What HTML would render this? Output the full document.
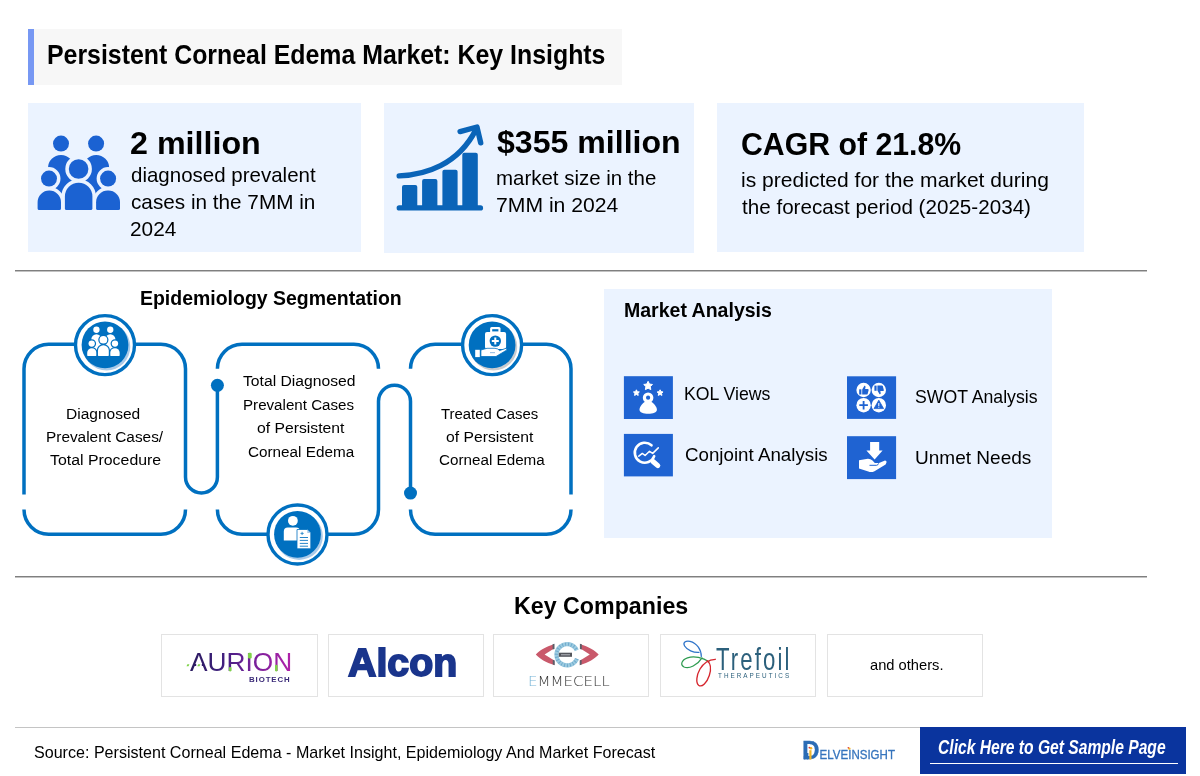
<!DOCTYPE html>
<html lang="en"><head><meta charset="utf-8"><title>Persistent Corneal Edema Market: Key Insights</title>
<style>
html,body{margin:0;padding:0;}
body{width:1200px;height:776px;position:relative;overflow:hidden;background:#fff;font-family:"Liberation Sans", sans-serif;color:#000;}
.t{position:absolute;white-space:nowrap;line-height:1;transform-origin:0 0;display:block;}
.abs{position:absolute;}
.card{position:absolute;background:#ebf3ff;}
.hr{position:absolute;background:#7f7f7f;height:1px;box-shadow:0 1px 0 #c2c2c2;}
.logo{position:absolute;border:1px solid #e3e3e3;box-sizing:border-box;background:#fff;}
.ic{position:absolute;background:#1f63d2;}
svg{position:absolute;overflow:visible;}
.dl{font-size:12.6px;color:#3574bd;-webkit-text-stroke:0.3px #3574bd;}
.dl::first-letter{font-size:26.6px;font-weight:bold;color:#2b6cb5;-webkit-text-stroke:0;}
</style></head><body>
<header>
<div class="abs" style="left:28px;top:29px;width:594px;height:56px;background:#f7f7f7;border-left:6px solid #7798f3;box-sizing:border-box;"></div>
<h1 style="margin:0"><span class="t" style="left:47.10px;top:41px;font-size:27.6px;font-weight:bold;transform:scaleX(0.9014);">Persistent Corneal Edema Market: Key Insights</span></h1>
</header>
<section>
<div class="card" style="left:28px;top:103px;width:333px;height:148.5px;"></div>
<svg style="left:0;top:0" width="140" height="230" viewBox="0 0 140 230" role="img" aria-label="people"><g fill="#1b62d2"><circle cx="61" cy="143.6" r="8"/><circle cx="96.1" cy="143.6" r="8"/><path d="M48,198.5 V168 A13,13 0 0 1 61,155 H61 A13,13 0 0 1 74,168 V198.5 A1.5,1.5 0 0 1 72.5,200 H49.5 A1.5,1.5 0 0 1 48,198.5 Z"/><path d="M83.2,198.5 V168 A13,13 0 0 1 96.2,155 H96.2 A13,13 0 0 1 109.2,168 V198.5 A1.5,1.5 0 0 1 107.7,200 H84.7 A1.5,1.5 0 0 1 83.2,198.5 Z"/><circle cx="49" cy="178.6" r="8" stroke="#ebf3ff" stroke-width="7.0" paint-order="stroke" stroke-linejoin="round"/><circle cx="108.1" cy="178.6" r="8" stroke="#ebf3ff" stroke-width="7.0" paint-order="stroke" stroke-linejoin="round"/><path d="M37.6,208.5 V202.2 A11.7,11.7 0 0 1 49.3,190.5 H49.3 A11.7,11.7 0 0 1 61,202.2 V208.5 A1.5,1.5 0 0 1 59.5,210 H39.1 A1.5,1.5 0 0 1 37.6,208.5 Z" stroke="#ebf3ff" stroke-width="7.0" paint-order="stroke" stroke-linejoin="round"/><path d="M96.1,208.5 V202.2 A11.7,11.7 0 0 1 107.8,190.5 H108.3 A11.7,11.7 0 0 1 120,202.2 V208.5 A1.5,1.5 0 0 1 118.5,210 H97.6 A1.5,1.5 0 0 1 96.1,208.5 Z" stroke="#ebf3ff" stroke-width="7.0" paint-order="stroke" stroke-linejoin="round"/><circle cx="78.6" cy="169" r="9.8" stroke="#ebf3ff" stroke-width="7.0" paint-order="stroke" stroke-linejoin="round"/><path d="M64.9,208.5 V196.5 A13.7,13.7 0 0 1 78.60000000000001,182.8 H78.7 A13.7,13.7 0 0 1 92.4,196.5 V208.5 A1.5,1.5 0 0 1 90.9,210 H66.4 A1.5,1.5 0 0 1 64.9,208.5 Z" stroke="#ebf3ff" stroke-width="7.0" paint-order="stroke" stroke-linejoin="round"/></g></svg>
<span class="t" style="left:129.98px;top:128px;font-size:31.5px;font-weight:bold;transform:scaleX(1.0237);">2 million</span>
<span class="t" style="left:131.00px;top:165px;font-size:20.3px;transform:scaleX(1.0107);">diagnosed prevalent</span>
<span class="t" style="left:131.00px;top:192px;font-size:20.3px;transform:scaleX(1.0219);">cases in the 7MM in</span>
<span class="t" style="left:129.97px;top:219px;font-size:20.3px;transform:scaleX(1.0265);">2024</span>
<div class="card" style="left:384px;top:103px;width:310px;height:150px;"></div>
<svg style="left:380px;top:110px" width="120" height="110" viewBox="380 110 120 110" role="img" aria-label="growth chart"><g fill="#0a64b8"><rect x="396.6" y="205.3" width="86.5" height="5.3" rx="2.6"/><path d="M402,207 V187.1 a2,2 0 0 1 2,-2 H415.3 a2,2 0 0 1 2,2 V207 Z"/><path d="M422.1,207 V181 a2,2 0 0 1 2,-2 H435.4 a2,2 0 0 1 2,2 V207 Z"/><path d="M442.4,207 V171.8 a2,2 0 0 1 2,-2 H455.6 a2,2 0 0 1 2,2 V207 Z"/><path d="M462.3,207 V154.8 a2,2 0 0 1 2,-2 H475.8 a2,2 0 0 1 2,2 V207 Z"/></g><g fill="none" stroke="#0a64b8" stroke-width="5.4" stroke-linecap="round" stroke-linejoin="round"><path d="M399.2,175.9 C425,175 458,165 476,129.5"/><path d="M460.1,131.6 L477,127 L480.7,142.8"/></g></svg>
<span class="t" style="left:497.10px;top:127px;font-size:31.5px;font-weight:bold;transform:scaleX(1.0185);">$355 million</span>
<span class="t" style="left:495.99px;top:168px;font-size:20.3px;transform:scaleX(1.0085);">market size in the</span>
<span class="t" style="left:495.96px;top:195px;font-size:20.3px;transform:scaleX(1.0434);">7MM in 2024</span>
<div class="card" style="left:717px;top:103px;width:367px;height:148.5px;"></div>
<span class="t" style="left:740.54px;top:129px;font-size:31.5px;font-weight:bold;transform:scaleX(0.9602);">CAGR of 21.8%</span>
<span class="t" style="left:740.76px;top:170px;font-size:20.3px;transform:scaleX(1.0384);">is predicted for the market during</span>
<span class="t" style="left:741.80px;top:197px;font-size:20.3px;transform:scaleX(1.0171);">the forecast period (2025-2034)</span>
</section>
<div class="hr" style="left:15px;top:270px;width:1132px;"></div>
<section>
<h2 style="margin:0"><span class="t" style="left:139.81px;top:289px;font-size:19.6px;font-weight:bold;transform:scaleX(0.9932);">Epidemiology Segmentation</span></h2>
<svg style="left:0;top:300px" width="600" height="280" viewBox="0 300 600 280" role="img" aria-label="segmentation flow"><g fill="none" stroke="#0070c0" stroke-width="3.5"><path d="M24,494.5 V368.8 A24.6,24.6 0 0 1 48.6,344.2 H160.9 A24.6,24.6 0 0 1 185.5,368.8 V477 A15.95,15.95 0 0 0 217.4,477 V385"/><path d="M24,509.6 V509.6 A24.6,24.6 0 0 0 48.6,534.2 H160.9 A24.6,24.6 0 0 0 185.5,509.6 V509.6"/><path d="M217.4,368.8 V368.8 A24.6,24.6 0 0 1 242.0,344.2 H353.9 A24.6,24.6 0 0 1 378.5,368.8 V368.8"/><path d="M217.4,509.6 V509.6 A24.6,24.6 0 0 0 242.0,534.2 H353.9 A24.6,24.6 0 0 0 378.5,509.6 V401.3 A16,16 0 0 1 410.5,401.3 V492.7"/><path d="M410.5,368.8 V368.8 A24.6,24.6 0 0 1 435.1,344.2 H546.4 A24.6,24.6 0 0 1 571,368.8 V494.5"/><path d="M410.5,509.6 V509.6 A24.6,24.6 0 0 0 435.1,534.2 H546.4 A24.6,24.6 0 0 0 571,509.6 V509.6"/></g><circle cx="217.4" cy="385.3" r="6.5" fill="#0070c0"/><circle cx="410.5" cy="493.1" r="6.5" fill="#0070c0"/><circle cx="105" cy="345.1" r="29.5" fill="#fff" stroke="#0070c0" stroke-width="3.4"/><circle cx="106.6" cy="346.8" r="23.7" fill="#a9cae9"/><circle cx="105" cy="344.90000000000003" r="23.4" fill="#0070c0"/><g transform="translate(72.39,273.17) scale(0.394)"><g fill="#fff"><circle cx="61" cy="143.6" r="8"/><circle cx="96.1" cy="143.6" r="8"/><path d="M48,198.5 V168 A13,13 0 0 1 61,155 H61 A13,13 0 0 1 74,168 V198.5 A1.5,1.5 0 0 1 72.5,200 H49.5 A1.5,1.5 0 0 1 48,198.5 Z"/><path d="M83.2,198.5 V168 A13,13 0 0 1 96.2,155 H96.2 A13,13 0 0 1 109.2,168 V198.5 A1.5,1.5 0 0 1 107.7,200 H84.7 A1.5,1.5 0 0 1 83.2,198.5 Z"/><circle cx="49" cy="178.6" r="8" stroke="#0070c0" stroke-width="6.4" paint-order="stroke" stroke-linejoin="round"/><circle cx="108.1" cy="178.6" r="8" stroke="#0070c0" stroke-width="6.4" paint-order="stroke" stroke-linejoin="round"/><path d="M37.6,208.5 V202.2 A11.7,11.7 0 0 1 49.3,190.5 H49.3 A11.7,11.7 0 0 1 61,202.2 V208.5 A1.5,1.5 0 0 1 59.5,210 H39.1 A1.5,1.5 0 0 1 37.6,208.5 Z" stroke="#0070c0" stroke-width="6.4" paint-order="stroke" stroke-linejoin="round"/><path d="M96.1,208.5 V202.2 A11.7,11.7 0 0 1 107.8,190.5 H108.3 A11.7,11.7 0 0 1 120,202.2 V208.5 A1.5,1.5 0 0 1 118.5,210 H97.6 A1.5,1.5 0 0 1 96.1,208.5 Z" stroke="#0070c0" stroke-width="6.4" paint-order="stroke" stroke-linejoin="round"/><circle cx="78.6" cy="169" r="9.8" stroke="#0070c0" stroke-width="6.4" paint-order="stroke" stroke-linejoin="round"/><path d="M64.9,208.5 V196.5 A13.7,13.7 0 0 1 78.60000000000001,182.8 H78.7 A13.7,13.7 0 0 1 92.4,196.5 V208.5 A1.5,1.5 0 0 1 90.9,210 H66.4 A1.5,1.5 0 0 1 64.9,208.5 Z" stroke="#0070c0" stroke-width="6.4" paint-order="stroke" stroke-linejoin="round"/></g></g><circle cx="492.1" cy="345.1" r="29.5" fill="#fff" stroke="#0070c0" stroke-width="3.4"/><circle cx="493.6" cy="346.90000000000003" r="23.6" fill="#c9ccd0"/><circle cx="492.1" cy="344.90000000000003" r="23.4" fill="#0070c0"/><g fill="#fff"><rect x="490.1" y="326.9" width="10.4" height="7" rx="1.5"/><rect x="485" y="332" width="21.1" height="17" rx="2"/><rect x="492.2" y="329.2" width="6.2" height="2.2" fill="#0070c0"/><circle cx="495.3" cy="341.1" r="5.7" fill="#0070c0"/><path d="M494.3,337.6 h2 v2.5 h2.5 v2 h-2.5 v2.5 h-2 v-2.5 h-2.5 v-2 h2.5 Z"/><path d="M480.9,350 L487,348.3 H495 Q498.5,348.6 499.5,350.6 L506.4,348.2 Q507.3,349 506.5,350.2 L496,356.5 H480.9 Z" stroke="#0070c0" stroke-width="0.8"/><rect x="475.2" y="349.8" width="4.6" height="7.3"/><rect x="490" y="352" width="5" height="1.2" fill="#9fc3e6"/></g><circle cx="297.5" cy="534.5" r="29.5" fill="#fff" stroke="#0070c0" stroke-width="3.4"/><circle cx="299.1" cy="536.2" r="23.7" fill="#a9cae9"/><circle cx="297.5" cy="534.3" r="23.4" fill="#0070c0"/><g fill="#fff"><circle cx="292.9" cy="520.8" r="4.9"/><path d="M283.8,540.4 V531.5 a4,4 0 0 1 4,-4 H296 a4,4 0 0 1 4,4 V540.4 Z"/><path d="M297,529.5 H307.3 L310.8,533 V548.8 H297 Z" stroke="#0070c0" stroke-width="0.8"/><path d="M307.3,529.5 V533 H310.8 Z" fill="#a6c8e8"/><g stroke="#0070c0" stroke-width="1" opacity="0.85"><path d="M299.8,537.5 H308 M299.8,540.4 H308 M299.8,543.4 H308 M299.8,546.2 H308"/><path d="M300.5,533.4 H303.7 M302.1,531.8 V535" stroke-width="0.9"/></g></g></svg>
<span class="t" style="left:65.50px;top:406px;font-size:15.5px;transform:scaleX(1.0015);">Diagnosed</span>
<span class="t" style="left:45.71px;top:429px;font-size:15.5px;transform:scaleX(0.9922);">Prevalent Cases/</span>
<span class="t" style="left:49.50px;top:452px;font-size:15.5px;transform:scaleX(1.0237);">Total Procedure</span>
<span class="t" style="left:242.90px;top:373px;font-size:15.5px;transform:scaleX(1.0123);">Total Diagnosed</span>
<span class="t" style="left:243.22px;top:397px;font-size:15.5px;transform:scaleX(0.9763);">Prevalent Cases</span>
<span class="t" style="left:256.80px;top:420px;font-size:15.5px;transform:scaleX(1.0145);">of Persistent</span>
<span class="t" style="left:247.60px;top:444px;font-size:15.5px;transform:scaleX(0.9854);">Corneal Edema</span>
<span class="t" style="left:441.40px;top:406px;font-size:15.5px;transform:scaleX(0.9622);">Treated Cases</span>
<span class="t" style="left:446.25px;top:429px;font-size:15.5px;transform:scaleX(1.0127);">of Persistent</span>
<span class="t" style="left:438.90px;top:452px;font-size:15.5px;transform:scaleX(0.9817);">Corneal Edema</span>
</section>
<section>
<div class="card" style="left:604px;top:288.5px;width:448px;height:249px;"></div>
<h2 style="margin:0"><span class="t" style="left:623.80px;top:301px;font-size:19.6px;font-weight:bold;transform:scaleX(0.9959);">Market Analysis</span></h2>
<svg style="left:600px;top:360px" width="320" height="130" viewBox="600 360 320 130" role="img" aria-label="market analysis icons"><rect x="623.9" y="376.2" width="49" height="42.8" fill="#1f63d2"/><rect x="623.9" y="433.9" width="49" height="42.5" fill="#1f63d2"/><rect x="847" y="376.3" width="49.1" height="42.6" fill="#1f63d2"/><rect x="847" y="436.2" width="49.1" height="42.9" fill="#1f63d2"/><g fill="#fff"><polygon points="648.10,381.30 649.45,384.04 652.47,384.48 650.29,386.61 650.80,389.62 648.10,388.20 645.40,389.62 645.91,386.61 643.73,384.48 646.75,384.04" stroke="#fff" stroke-width="1" stroke-linejoin="round"/><polygon points="636.40,389.80 637.31,391.65 639.35,391.94 637.87,393.38 638.22,395.41 636.40,394.45 634.58,395.41 634.93,393.38 633.45,391.94 635.49,391.65" stroke="#fff" stroke-width="1" stroke-linejoin="round"/><polygon points="660.10,389.80 661.01,391.65 663.05,391.94 661.57,393.38 661.92,395.41 660.10,394.45 658.28,395.41 658.63,393.38 657.15,391.94 659.19,391.65" stroke="#fff" stroke-width="1" stroke-linejoin="round"/><circle cx="648.1" cy="397.7" r="3.7" fill="#1f63d2" stroke="#fff" stroke-width="3.2"/><path d="M645.2,401.6 H651 C653.5,403.5 656.9,406.5 656.9,409.8 C656.9,412.6 653,413.8 648.2,413.8 C643.4,413.8 639.5,412.6 639.5,409.8 C639.5,406.5 642.7,403.5 645.2,401.6 Z"/></g><g fill="none" stroke="#fff" stroke-linecap="round" stroke-linejoin="round"><path d="M654.20,456.12 A10,10 0 1 1 651.49,445.27" stroke-width="2.6"/><path d="M638.8,456.2 L642.3,453.4 L645.1,455.5 L649.5,451.3 L652.7,453.4 L658.3,447.9" stroke-width="1.5"/><path d="M653,461.5 L657.8,465.6" stroke-width="5"/></g><g fill="#fff"><circle cx="863.6" cy="390" r="7.2"/><circle cx="878.8" cy="390" r="7.2"/><circle cx="863.6" cy="405.2" r="7.2"/><circle cx="878.8" cy="405.2" r="7.2"/><g fill="#1f63d2"><rect x="859.2" y="389.3" width="2.2" height="5.2"/><path d="M862.2,389.6 L864.4,385.8 Q865.6,385.6 865.5,387.2 L865.1,389 H868 Q868.8,389.2 868.6,390.2 L867.6,394 Q867.3,394.6 866.6,394.6 H862.2 Z"/><g transform="translate(1757.6,0) scale(-1,1)"><rect x="881" y="385.6" width="2.2" height="5.2"/><path d="M880.2,390.5 L878,394.3 Q876.8,394.5 876.9,392.9 L877.3,391.1 H874.4 Q873.6,390.9 873.8,389.9 L874.8,386.1 Q875.1,385.5 875.8,385.5 H880.2 Z"/></g><path d="M862.7,400.9 h1.8 v3.4 h3.4 v1.8 h-3.4 v3.4 h-1.8 v-3.4 h-3.4 v-1.8 h3.4 Z"/><path d="M878.8,400.2 L883.6,408.6 H874 Z" stroke-linejoin="round" stroke="#1f63d2" stroke-width="0.8"/><rect x="878.3" y="403" width="1" height="3" fill="#fff"/><rect x="878.3" y="406.7" width="1" height="1" fill="#fff"/></g></g><g fill="#fff"><path d="M870.1,442 H879.2 V450.6 H882.6 L874.6,459.4 L866.4,450.6 H870.1 Z"/><path d="M859,460.2 L867.8,458.7 Q870.5,458.6 872.5,460.6 L874.8,462.9 H879 L885,460.6 Q886.9,460.6 886.5,462.6 L885.6,464.6 L874.5,471.2 Q871.5,472.8 868.3,471.6 L859,468.4 Z"/><path d="M869.5,465.3 H876.6 Q878.2,465 878.6,463.4" fill="none" stroke="#1f63d2" stroke-width="1"/></g></svg>
<span class="t" style="left:684.03px;top:385px;font-size:18.2px;transform:scaleX(0.9713);">KOL Views</span><span class="t" style="left:684.90px;top:446px;font-size:18.2px;transform:scaleX(1.0300);">Conjoint Analysis</span><span class="t" style="left:914.80px;top:388px;font-size:18.2px;transform:scaleX(0.9730);">SWOT Analysis</span><span class="t" style="left:914.75px;top:449px;font-size:18.2px;transform:scaleX(1.0463);">Unmet Needs</span>
</section>
<div class="hr" style="left:15px;top:576px;width:1132px;"></div>
<section>
<h2 style="margin:0"><span class="t" style="left:513.86px;top:594px;font-size:24.7px;font-weight:bold;transform:scaleX(0.9407);">Key Companies</span></h2>
<div class="logo" style="left:161px;top:634px;width:157px;height:63px;"></div>
<div class="logo" style="left:328px;top:634px;width:156px;height:63px;"></div>
<div class="logo" style="left:493px;top:634px;width:156px;height:63px;"></div>
<div class="logo" style="left:660px;top:634px;width:156px;height:63px;"></div>
<div class="logo" style="left:827px;top:634px;width:156px;height:63px;"></div>
<svg style="left:160px;top:630px" width="830" height="70" viewBox="160 630 830 70" role="img" aria-label="company logo marks"><path d="M554,644.2 C546,646.5 539.5,650.5 535.8,654.4 C539.5,658.5 546,662.6 554.3,664.9 L554.3,660.6 L544.6,654.4 L554,648.4 Z" fill="#c9596b"/><path d="M580.4,644.2 C588.4,646.5 594.9,650.5 598.7,654.4 C594.9,658.5 588.4,662.6 580.1,664.9 L580.1,660.6 L589.8,654.4 L580.4,648.4 Z" fill="#c9596b"/><path d="M552.6,644.3 L554.5,643.8 V649 L552.6,649.6 Z M552.8,659.8 L554.7,660.6 V665.2 L552.8,664.6 Z M581.8,644.3 L579.9,643.8 V649 L581.8,649.6 Z M581.6,659.8 L579.7,660.6 V665.2 L581.6,664.6 Z" fill="#5a5e68"/><path d="M576.93,658.72 A10.6,10.6 0 1 1 576.78,650.44" fill="none" stroke="#9ccbe0" stroke-width="4.3"/><path d="M576.93,658.72 A10.6,10.6 0 1 1 576.78,650.44" fill="none" stroke="#4d8fbd" stroke-width="3.6" stroke-dasharray="1 1.9" opacity="0.55"/><rect x="558.8" y="652.7" width="13.2" height="4.1" fill="#54565c"/><rect x="561" y="654" width="9" height="1.4" fill="#9a9ca2"/><g fill="none" stroke-linecap="round"><path d="M701.3,656.5 C701.5,650 697,643 690,641.3 C685.5,640.4 682.6,642.6 684.6,646 C687,650 693.5,652.8 699,652.4" stroke="#2f74c9" stroke-width="1.25"/><path d="M709,661.8 C703,657.5 694,655.6 687.5,657.8 C681.5,659.9 680,664.8 684,667 C689,669.5 697.5,665 702,657.8" stroke="#2e9b50" stroke-width="1.25"/><path d="M715.3,659.3 C709,659.6 703.5,663 700,669 C696.6,675 695.6,682.5 698.6,685.2 C702,687.8 707,682.5 709.3,675.5 C711.2,669.5 710.6,663.5 707.2,660.8" stroke="#d6262e" stroke-width="1.35"/></g></svg>
<span class="t" style="left:189.60px;top:649px;font-size:26.2px;transform:scaleX(1.0026);color:#5a2090;background:linear-gradient(90deg,#2a1a5e 0%,#3d1f7c 30%,#6a2096 55%,#b322aa 100%);-webkit-background-clip:text;background-clip:text;-webkit-text-fill-color:transparent;">AURION</span>
<span class="t" style="left:249.20px;top:676px;font-size:7px;font-weight:bold;color:#3a2a78;letter-spacing:0.8px;transform:scaleX(1.1202);">BIOTECH</span>
<span class="t" style="left:348.10px;top:643px;font-size:39.4px;font-weight:bold;color:#1a358c;transform:scaleX(0.9976);-webkit-text-stroke:1.8px #1a358c;">Alcon</span>
<span class="t" style="left:528.14px;top:674px;font-size:14.2px;font-weight:200;color:#2e2e2e;font-family:'DejaVu Sans', 'Liberation Sans', sans-serif;transform:scaleX(1.0606);background:linear-gradient(90deg,#6fb0d4 0%,#6fb0d4 10.5%,#2e2e2e 10.5%);-webkit-background-clip:text;background-clip:text;-webkit-text-fill-color:transparent;">EMMECELL</span>
<span class="t" style="left:716.40px;top:644px;font-size:31.5px;color:#2c607c;letter-spacing:3px;transform:scaleX(0.7044);">Trefoil</span>
<span class="t" style="left:718.00px;top:673px;font-size:6.3px;color:#2c607c;letter-spacing:2px;transform:scaleX(1.0081);">THERAPEUTICS</span>
<svg style="left:160px;top:630px" width="200" height="70" viewBox="160 630 200 70" role="img" aria-label="Aurion accents"><rect x="196.2" y="663.4" width="5.6" height="2.9" fill="#fff"/><g fill="#7ed348"><path d="M186.5,666.2 l0.9,-2 h2 l-0.9,2 Z"/><path d="M197.3,666.2 l0.9,-2 h2.2 l-0.9,2 Z"/><rect x="228.9" y="667" width="2.6" height="4.4" rx="1.1"/><rect x="248" y="652.8" width="3.7" height="5.8" rx="1.3"/><rect x="275" y="664.8" width="2.6" height="6.6" rx="1.1"/></g></svg>
<span class="t" style="left:870.30px;top:658px;font-size:14.2px;transform:scaleX(1.0351);">and others.</span>
</section>
<footer>
<div class="abs" style="left:15px;top:727px;width:905px;height:1px;background:#c4c4c4;"></div>
<span class="t" style="left:33.50px;top:745px;font-size:16.6px;transform:scaleX(0.9692);">Source: Persistent Corneal Edema - Market Insight, Epidemiology And Market Forecast</span>
<span class="t dl" style="left:802px;top:737px;transform:scaleX(0.915);">DELVEINSIGHT</span>
<svg style="left:800px;top:738px" width="30" height="26" viewBox="800 738 30 26" role="img" aria-label="DelveInsight mark"><rect x="803.8" y="756" width="1.8" height="3.5" fill="#2b6cb5"/><rect x="806.5" y="753" width="1.9" height="6.5" fill="#2b6cb5"/><rect x="809.3" y="750.2" width="2.2" height="9.3" fill="#f2b526"/><circle cx="811" cy="748.3" r="1.3" fill="#f2b526"/><circle cx="809.4" cy="747.6" r="0.9" fill="#e03a3a"/><circle cx="849.3" cy="748.6" r="1.2" fill="#f2b526"/><circle cx="848.3" cy="747.7" r="0.8" fill="#e03a3a"/></svg>
<div class="abs" style="left:920px;top:727px;width:266px;height:47px;background:#0a349e;"></div>
<span class="t" style="left:938.20px;top:738px;font-size:19.3px;font-weight:bold;font-style:italic;color:#fff;transform:scaleX(0.8106);">Click Here to Get Sample Page</span>
<div class="abs" style="left:930px;top:763px;width:248px;height:1px;background:#fff;"></div>
</footer>
</body></html>
